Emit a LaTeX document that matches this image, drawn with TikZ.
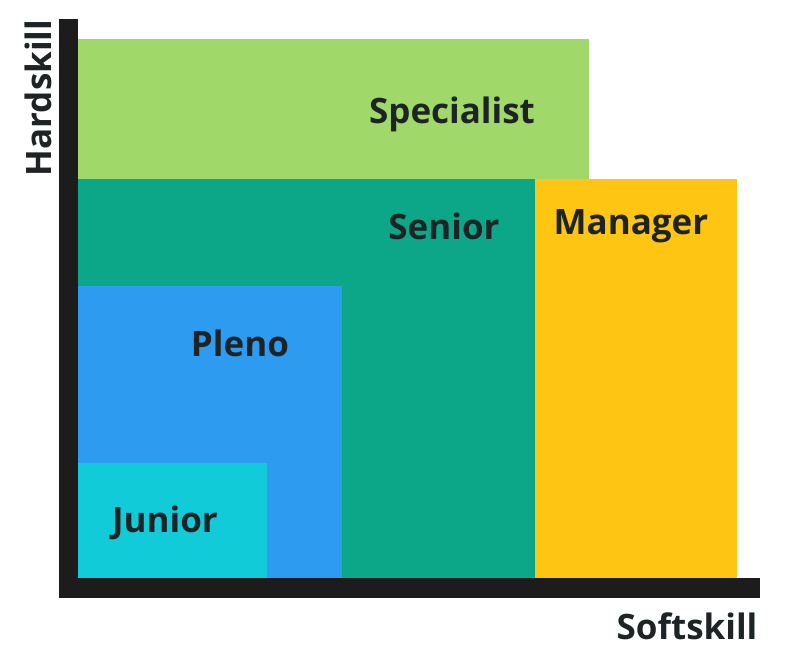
\documentclass[tikz,border=0pt]{standalone}
\usepackage{fontspec}
\setmainfont{Open Sans}
\definecolor{cspec}{HTML}{A0D869}
\definecolor{csen}{HTML}{0CA789}
\definecolor{cman}{HTML}{FEC613}
\definecolor{cple}{HTML}{2C9BF0}
\definecolor{cjun}{HTML}{12CBD8}
\definecolor{caxis}{HTML}{1C1C1C}
\definecolor{ctext}{HTML}{1E2426}
\begin{document}
\begin{tikzpicture}[x=1pt,y=-1pt,
  lbl/.style={font=\fontsize{35}{40}\selectfont\bfseries, text=ctext, inner sep=0pt},
  region/.style={draw=none, inner sep=0pt}]
\useasboundingbox (0,0) rectangle (795,666);
\fill[white] (0,0) rectangle (795,666);
\fill[cspec] (78,39) rectangle (589,179);
\fill[csen] (78,179) rectangle (535,578);
\fill[cman] (535,179) rectangle (737,578);
\fill[cple] (78,286) rectangle (342,578);
\fill[cjun] (78,463) rectangle (267,578);
\fill[caxis] (59,19) rectangle (78,598);
\fill[caxis] (59,578) rectangle (760,598);
\node[lbl] (spec) at (452,114) {Specialist};
\node[lbl] (sen) at (444,226) {Senior};
\node[lbl] (man) at (631,226) {Manager};
\node[lbl] (ple) at (240,343) {Pleno};
\node[lbl] (jun) at (165,523) {Junior};
\node[lbl, rotate=90] (hard) at (38,98) {Hardskill};
\node[lbl] (soft) at (687,626) {Softskill};
\end{tikzpicture}
\end{document}
